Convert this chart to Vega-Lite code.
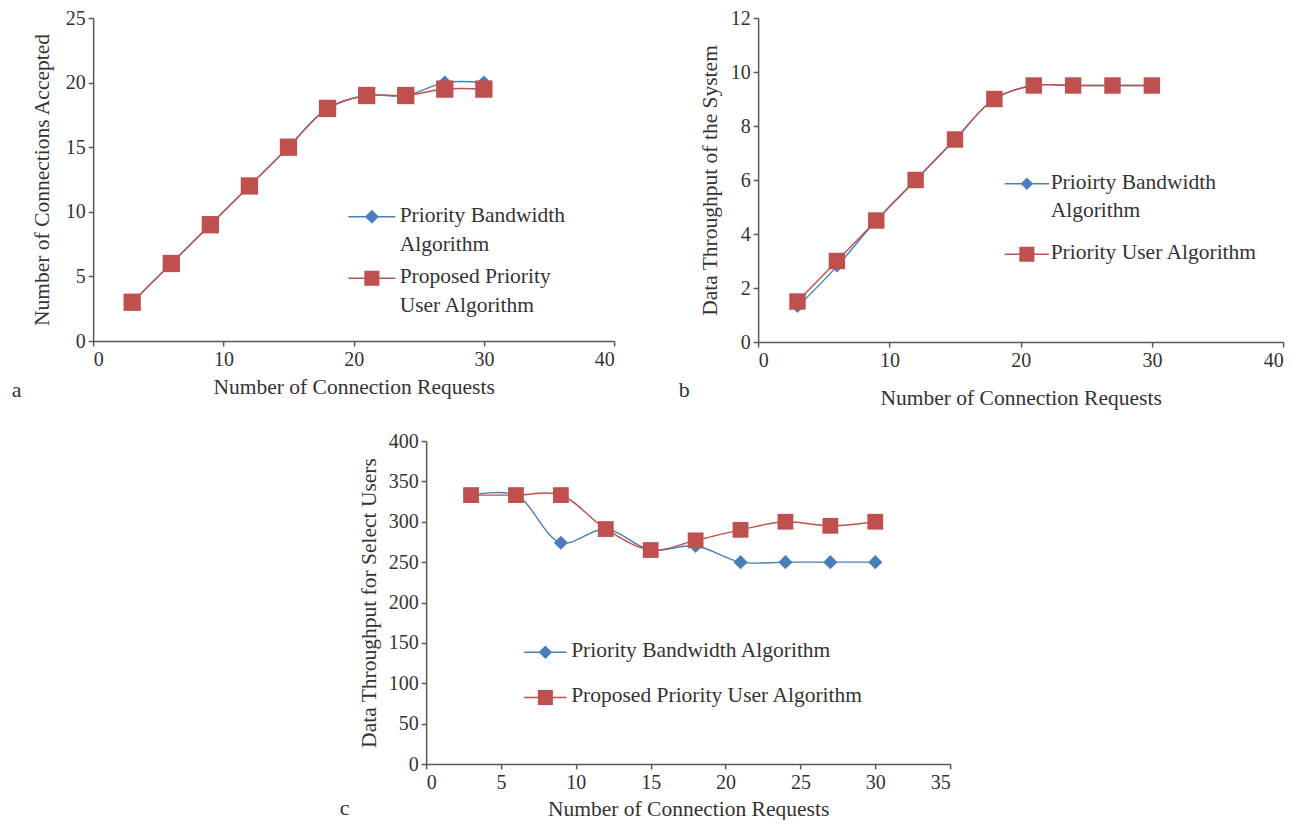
{
  "$schema": "https://vega.github.io/schema/vega-lite/v6.json",
  "background": "white",
  "padding": {"left": 11, "top": 8, "right": 3, "bottom": 0},
  "config": {
    "font": "Liberation Serif",
    "view": {"stroke": null},
    "axis": {
      "grid": false,
      "domainColor": "#595959",
      "domainWidth": 1.5,
      "tickColor": "#595959",
      "tickWidth": 1.5,
      "tickSize": 5,
      "labelFont": "Liberation Serif",
      "labelFontSize": 20,
      "labelColor": "#333333",
      "labelPadding": 3,
      "titleFont": "Liberation Serif",
      "titleFontSize": 21.5,
      "titleFontWeight": "normal",
      "titleColor": "#333333"
    },
    "legend": {
      "labelFont": "Liberation Serif",
      "labelFontSize": 21.5,
      "labelColor": "#333333",
      "labelLimit": 400,
      "symbolSize": 300,
      "symbolStrokeWidth": 0,
      "symbolOpacity": 1,
      "labelBaseline": "top"
    },
    "title": {"font": "Liberation Serif", "fontSize": 22, "fontWeight": "normal", "color": "#333333"}
  },
  "datasets": {
    "a": [
      {"requests": 3, "series": "Priority Bandwidth Algorithm", "value": 3},
      {"requests": 6, "series": "Priority Bandwidth Algorithm", "value": 6},
      {"requests": 9, "series": "Priority Bandwidth Algorithm", "value": 9},
      {"requests": 12, "series": "Priority Bandwidth Algorithm", "value": 12},
      {"requests": 15, "series": "Priority Bandwidth Algorithm", "value": 15},
      {"requests": 18, "series": "Priority Bandwidth Algorithm", "value": 18},
      {"requests": 21, "series": "Priority Bandwidth Algorithm", "value": 19},
      {"requests": 24, "series": "Priority Bandwidth Algorithm", "value": 19},
      {"requests": 27, "series": "Priority Bandwidth Algorithm", "value": 20},
      {"requests": 30, "series": "Priority Bandwidth Algorithm", "value": 20},
      {"requests": 3, "series": "Proposed Priority User Algorithm", "value": 3},
      {"requests": 6, "series": "Proposed Priority User Algorithm", "value": 6},
      {"requests": 9, "series": "Proposed Priority User Algorithm", "value": 9},
      {"requests": 12, "series": "Proposed Priority User Algorithm", "value": 12},
      {"requests": 15, "series": "Proposed Priority User Algorithm", "value": 15},
      {"requests": 18, "series": "Proposed Priority User Algorithm", "value": 18},
      {"requests": 21, "series": "Proposed Priority User Algorithm", "value": 19},
      {"requests": 24, "series": "Proposed Priority User Algorithm", "value": 19},
      {"requests": 27, "series": "Proposed Priority User Algorithm", "value": 19.5},
      {"requests": 30, "series": "Proposed Priority User Algorithm", "value": 19.5}
    ],
    "b": [
      {"requests": 3, "series": "Prioirty Bandwidth Algorithm", "value": 1.3},
      {"requests": 6, "series": "Prioirty Bandwidth Algorithm", "value": 2.8},
      {"requests": 9, "series": "Prioirty Bandwidth Algorithm", "value": 4.5},
      {"requests": 12, "series": "Prioirty Bandwidth Algorithm", "value": 6},
      {"requests": 15, "series": "Prioirty Bandwidth Algorithm", "value": 7.5},
      {"requests": 18, "series": "Prioirty Bandwidth Algorithm", "value": 9},
      {"requests": 21, "series": "Prioirty Bandwidth Algorithm", "value": 9.5},
      {"requests": 24, "series": "Prioirty Bandwidth Algorithm", "value": 9.5},
      {"requests": 27, "series": "Prioirty Bandwidth Algorithm", "value": 9.5},
      {"requests": 30, "series": "Prioirty Bandwidth Algorithm", "value": 9.5},
      {"requests": 3, "series": "Priority User Algorithm", "value": 1.5},
      {"requests": 6, "series": "Priority User Algorithm", "value": 3},
      {"requests": 9, "series": "Priority User Algorithm", "value": 4.5},
      {"requests": 12, "series": "Priority User Algorithm", "value": 6},
      {"requests": 15, "series": "Priority User Algorithm", "value": 7.5},
      {"requests": 18, "series": "Priority User Algorithm", "value": 9},
      {"requests": 21, "series": "Priority User Algorithm", "value": 9.5},
      {"requests": 24, "series": "Priority User Algorithm", "value": 9.5},
      {"requests": 27, "series": "Priority User Algorithm", "value": 9.5},
      {"requests": 30, "series": "Priority User Algorithm", "value": 9.5}
    ],
    "c": [
      {"requests": 3, "series": "Priority Bandwidth Algorithm", "value": 333},
      {"requests": 6, "series": "Priority Bandwidth Algorithm", "value": 333},
      {"requests": 9, "series": "Priority Bandwidth Algorithm", "value": 274},
      {"requests": 12, "series": "Priority Bandwidth Algorithm", "value": 291},
      {"requests": 15, "series": "Priority Bandwidth Algorithm", "value": 265},
      {"requests": 18, "series": "Priority Bandwidth Algorithm", "value": 270},
      {"requests": 21, "series": "Priority Bandwidth Algorithm", "value": 250},
      {"requests": 24, "series": "Priority Bandwidth Algorithm", "value": 250},
      {"requests": 27, "series": "Priority Bandwidth Algorithm", "value": 250},
      {"requests": 30, "series": "Priority Bandwidth Algorithm", "value": 250},
      {"requests": 3, "series": "Proposed Priority User Algorithm", "value": 333},
      {"requests": 6, "series": "Proposed Priority User Algorithm", "value": 333},
      {"requests": 9, "series": "Proposed Priority User Algorithm", "value": 333},
      {"requests": 12, "series": "Proposed Priority User Algorithm", "value": 291},
      {"requests": 15, "series": "Proposed Priority User Algorithm", "value": 265},
      {"requests": 18, "series": "Proposed Priority User Algorithm", "value": 277},
      {"requests": 21, "series": "Proposed Priority User Algorithm", "value": 290},
      {"requests": 24, "series": "Proposed Priority User Algorithm", "value": 300},
      {"requests": 27, "series": "Proposed Priority User Algorithm", "value": 295},
      {"requests": 30, "series": "Proposed Priority User Algorithm", "value": 300}
    ]
  },
  "center": true,
  "spacing": 22,
  "resolve": {"scale": {"color": "independent", "shape": "independent"}, "legend": {"color": "independent", "shape": "independent"}},
  "vconcat": [
    {
      "spacing": 63,
      "resolve": {"scale": {"color": "independent", "shape": "independent"}, "legend": {"color": "independent", "shape": "independent"}},
      "hconcat": [
        {
          "width": 521,
          "height": 323,
          "data": {"name": "a"},
          "title": {"text": "a", "orient": "bottom", "anchor": "start", "frame": "bounds", "dx": -20, "offset": -18},
          "encoding": {
            "x": {"field": "requests", "type": "quantitative", "scale": {"domain": [0, 40]}, "axis": {"values": [0, 10, 20, 30, 40], "title": "Number of Connection Requests", "titlePadding": 7}},
            "y": {"field": "value", "type": "quantitative", "scale": {"domain": [0, 25]}, "axis": {"values": [0, 5, 10, 15, 20, 25], "title": "Number of Connections Accepted", "titlePadding": 11.5}}
          },
          "layer": [
            {
              "mark": {"type": "line", "interpolate": "catmull-rom", "strokeWidth": 1.4},
              "encoding": {
                "detail": {"field": "series", "type": "nominal"},
                "color": {"condition": {"test": "datum.series == 'Priority Bandwidth Algorithm'", "value": "#4a7ebb"}, "value": "#c0504d"}
              }
            },
            {
              "mark": {"type": "point", "filled": true, "opacity": 1},
              "encoding": {
                "color": {"condition": {"test": "datum.series == 'Priority Bandwidth Algorithm'", "value": "#4a7ebb"}, "value": "#c0504d"},
                "shape": {"condition": {"test": "datum.series == 'Priority Bandwidth Algorithm'", "value": "diamond"}, "value": "square"},
                "size": {"condition": {"test": "datum.series == 'Priority Bandwidth Algorithm'", "value": 200}, "value": 300}
              }
            },
            {
              "transform": [{"filter": "false"}],
              "mark": {"type": "point", "filled": true, "opacity": 1},
              "encoding": {
                "color": {
                  "field": "series", "type": "nominal",
                  "scale": {"domain": ["Priority Bandwidth Algorithm", "Proposed Priority User Algorithm"], "range": ["#4a7ebb", "#c0504d"]},
                  "legend": {
                    "title": null, "orient": "none", "legendX": 268, "legendY": 188, "rowPadding": 9.5, "labelOffset": 17,
                    "labelExpr": "datum.value == 'Priority Bandwidth Algorithm' ? ['Priority Bandwidth', 'Algorithm'] : ['Proposed Priority', 'User Algorithm']",
                    "encode": {"labels": {"update": {"lineHeight": {"value": 29}, "dy": {"value": -12}}}}
                  }
                },
                "shape": {
                  "field": "series", "type": "nominal",
                  "scale": {"domain": ["Priority Bandwidth Algorithm", "Proposed Priority User Algorithm"], "range": ["M-2.71,-0.08L2.71,-0.08L2.71,0.08L-2.71,0.08ZM0,-0.8L0.8,0L0,0.8L-0.8,0Z", "M-2.71,-0.08L2.71,-0.08L2.71,0.08L-2.71,0.08ZM-0.87,-0.87L0.87,-0.87L0.87,0.87L-0.87,0.87Z"]},
                  "legend": {
                    "title": null, "orient": "none", "legendX": 268, "legendY": 188, "rowPadding": 9.5, "labelOffset": 17,
                    "labelExpr": "datum.value == 'Priority Bandwidth Algorithm' ? ['Priority Bandwidth', 'Algorithm'] : ['Proposed Priority', 'User Algorithm']",
                    "encode": {"labels": {"update": {"lineHeight": {"value": 29}, "dy": {"value": -12}}}}
                  }
                }
              }
            }
          ]
        },
        {
          "width": 525,
          "height": 324,
          "data": {"name": "b"},
          "title": {"text": "b", "orient": "bottom", "anchor": "start", "frame": "bounds", "dx": -21, "offset": -29},
          "encoding": {
            "x": {"field": "requests", "type": "quantitative", "scale": {"domain": [0, 40]}, "axis": {"values": [0, 10, 20, 30, 40], "title": "Number of Connection Requests", "titlePadding": 17}},
            "y": {"field": "value", "type": "quantitative", "scale": {"domain": [0, 12]}, "axis": {"values": [0, 2, 4, 6, 8, 10, 12], "title": "Data Throughput of the System", "titlePadding": 8.4}}
          },
          "layer": [
            {
              "mark": {"type": "line", "interpolate": "catmull-rom", "strokeWidth": 1.4},
              "encoding": {
                "detail": {"field": "series", "type": "nominal"},
                "color": {"condition": {"test": "datum.series == 'Prioirty Bandwidth Algorithm'", "value": "#4a7ebb"}, "value": "#c0504d"}
              }
            },
            {
              "mark": {"type": "point", "filled": true, "opacity": 1},
              "encoding": {
                "color": {"condition": {"test": "datum.series == 'Prioirty Bandwidth Algorithm'", "value": "#4a7ebb"}, "value": "#c0504d"},
                "shape": {"condition": {"test": "datum.series == 'Prioirty Bandwidth Algorithm'", "value": "diamond"}, "value": "square"},
                "size": {"condition": {"test": "datum.series == 'Prioirty Bandwidth Algorithm'", "value": 150}, "value": 270}
              }
            },
            {
              "transform": [{"filter": "false"}],
              "mark": {"type": "point", "filled": true, "opacity": 1},
              "encoding": {
                "color": {
                  "field": "series", "type": "nominal",
                  "scale": {"domain": ["Prioirty Bandwidth Algorithm", "Priority User Algorithm"], "range": ["#4a7ebb", "#c0504d"]},
                  "legend": {
                    "title": null, "orient": "none", "legendX": 258, "legendY": 155, "rowPadding": 19.5, "labelOffset": 13,
                    "labelExpr": "datum.value == 'Prioirty Bandwidth Algorithm' ? ['Prioirty Bandwidth', 'Algorithm'] : 'Priority User Algorithm'",
                    "encode": {"labels": {"update": {"lineHeight": {"value": 28}, "dy": {"value": -12}}}}
                  }
                },
                "shape": {
                  "field": "series", "type": "nominal",
                  "scale": {"domain": ["Prioirty Bandwidth Algorithm", "Priority User Algorithm"], "range": ["M-2.55,-0.08L2.55,-0.08L2.55,0.08L-2.55,0.08ZM0,-0.72L0.72,0L0,0.72L-0.72,0Z", "M-2.55,-0.08L2.55,-0.08L2.55,0.08L-2.55,0.08ZM-0.87,-0.87L0.87,-0.87L0.87,0.87L-0.87,0.87Z"]},
                  "legend": {
                    "title": null, "orient": "none", "legendX": 258, "legendY": 155, "rowPadding": 19.5, "labelOffset": 13,
                    "labelExpr": "datum.value == 'Prioirty Bandwidth Algorithm' ? ['Prioirty Bandwidth', 'Algorithm'] : 'Priority User Algorithm'",
                    "encode": {"labels": {"update": {"lineHeight": {"value": 28}, "dy": {"value": -12}}}}
                  }
                }
              }
            }
          ]
        }
      ]
    },
    {
      "width": 524,
      "height": 323,
      "data": {"name": "c"},
      "title": {"text": "c", "orient": "bottom", "anchor": "start", "frame": "bounds", "dx": -19, "offset": -22},
      "encoding": {
        "x": {"field": "requests", "type": "quantitative", "scale": {"domain": [0, 35]}, "axis": {"values": [0, 5, 10, 15, 20, 25, 30, 35], "title": "Number of Connection Requests", "titlePadding": 6.5}},
        "y": {"field": "value", "type": "quantitative", "scale": {"domain": [0, 400]}, "axis": {"values": [0, 50, 100, 150, 200, 250, 300, 350, 400], "title": "Data Throughput for Select Users", "titlePadding": 7.5}}
      },
      "layer": [
        {
          "mark": {"type": "line", "interpolate": "catmull-rom", "strokeWidth": 1.4},
          "encoding": {
            "detail": {"field": "series", "type": "nominal"},
            "color": {"condition": {"test": "datum.series == 'Priority Bandwidth Algorithm'", "value": "#4a7ebb"}, "value": "#c0504d"}
          }
        },
        {
          "mark": {"type": "point", "filled": true, "opacity": 1},
          "encoding": {
            "color": {"condition": {"test": "datum.series == 'Priority Bandwidth Algorithm'", "value": "#4a7ebb"}, "value": "#c0504d"},
            "shape": {"condition": {"test": "datum.series == 'Priority Bandwidth Algorithm'", "value": "diamond"}, "value": "square"},
            "size": {"condition": {"test": "datum.series == 'Priority Bandwidth Algorithm'", "value": 200}, "value": 250}
          }
        },
        {
          "transform": [{"filter": "false"}],
          "mark": {"type": "point", "filled": true, "opacity": 1},
          "encoding": {
            "color": {
              "field": "series", "type": "nominal",
              "scale": {"domain": ["Priority Bandwidth Algorithm", "Proposed Priority User Algorithm"], "range": ["#4a7ebb", "#c0504d"]},
              "legend": {
                "title": null, "orient": "none", "legendX": 108.5, "legendY": 200.5, "rowPadding": 22.2, "labelOffset": 15,
                "encode": {"labels": {"update": {"dy": {"value": -12}}}}
              }
            },
            "shape": {
              "field": "series", "type": "nominal",
              "scale": {"domain": ["Priority Bandwidth Algorithm", "Proposed Priority User Algorithm"], "range": ["M-2.45,-0.08L2.45,-0.08L2.45,0.08L-2.45,0.08ZM0,-0.78L0.78,0L0,0.78L-0.78,0Z", "M-2.45,-0.08L2.45,-0.08L2.45,0.08L-2.45,0.08ZM-0.87,-0.87L0.87,-0.87L0.87,0.87L-0.87,0.87Z"]},
              "legend": {
                "title": null, "orient": "none", "legendX": 108.5, "legendY": 200.5, "rowPadding": 22.2, "labelOffset": 15,
                "encode": {"labels": {"update": {"dy": {"value": -12}}}}
              }
            }
          }
        }
      ]
    }
  ]
}
